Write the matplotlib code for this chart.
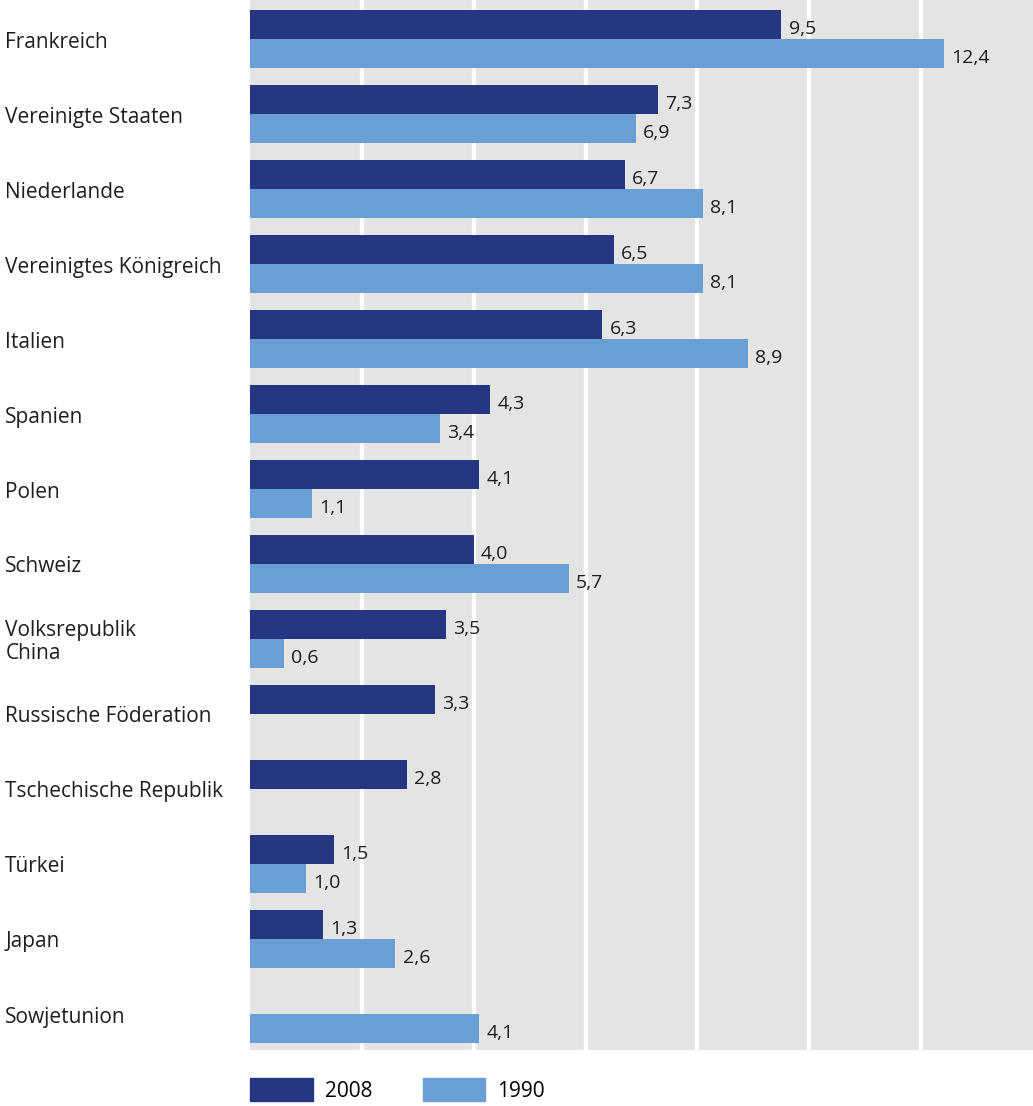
import matplotlib
matplotlib.use("Agg")
import matplotlib.pyplot as plt
from matplotlib.patches import Patch
import numpy as np

# data
countries = ["Frankreich", "Vereinigte Staaten", "Niederlande", "Vereinigtes Königreich",
             "Italien", "Spanien", "Polen", "Schweiz", "Volksrepublik\nChina",
             "Russische Föderation", "Tschechische Republik", "Türkei", "Japan", "Sowjetunion"]
values_2008 = [9.5, 7.3, 6.7, 6.5, 6.3, 4.3, 4.1, 4.0, 3.5, 3.3, 2.8, 1.5, 1.3, None]
values_1990 = [12.4, 6.9, 8.1, 8.1, 8.9, 3.4, 1.1, 5.7, 0.6, None, None, 1.0, 2.6, 4.1]
series_labels = ["2008", "1990"]

dark = "#253682"
light = "#6a9fd6"
grey = "#e4e4e4"
txt = "#1e1e1e"

plt.rcParams["font.family"] = ["Open Sans", "DejaVu Sans"]

fig = plt.figure(figsize=(10.33, 11.06), dpi=100)
ax = fig.add_axes([250 / 1033, 1 - 1050 / 1106, 1 - 250 / 1033, 1050 / 1106])
ax.set_facecolor(grey)

y = np.arange(len(countries))
h = 0.39


def draw(values, offset, color):
    for yi, v in zip(y, values):
        if v is None:
            continue
        ax.barh(yi + offset, v, height=h, color=color, zorder=3)
        ax.text(v + 0.13, yi + offset + 0.03, f"{v:.1f}".replace(".", ","),
                va="center_baseline", ha="left", fontsize=14, color=txt, zorder=4)


draw(values_2008, -h / 2 + 0.02, dark)
draw(values_1990, h / 2 + 0.02, light)

ax.set_xlim(0, 14)
ax.set_ylim(len(countries) - 0.5, -0.5)
ax.set_xticks([2, 4, 6, 8, 10, 12])
ax.grid(axis="x", color="white", linewidth=3, zorder=1)
ax.tick_params(left=False, bottom=False, labelbottom=False, labelleft=False)
for s in ax.spines.values():
    s.set_visible(False)

# category labels, left aligned at the figure edge
for yi, name in zip(y, countries):
    ax.text(-245 / 56, yi + 0.06, name, ha="left", va="center", fontsize=15,
            color=txt, linespacing=1.1)

handles = [Patch(color=dark), Patch(color=light)]
fig.legend(handles, series_labels, loc="upper left", ncol=2, frameon=False,
           bbox_to_anchor=(250 / 1033, 1 - 1078 / 1106), fontsize=15,
           handlelength=3.0, handleheight=1.35, handletextpad=0.6,
           columnspacing=2.4, borderaxespad=0, borderpad=0)

fig.savefig("out.png", dpi=100)
